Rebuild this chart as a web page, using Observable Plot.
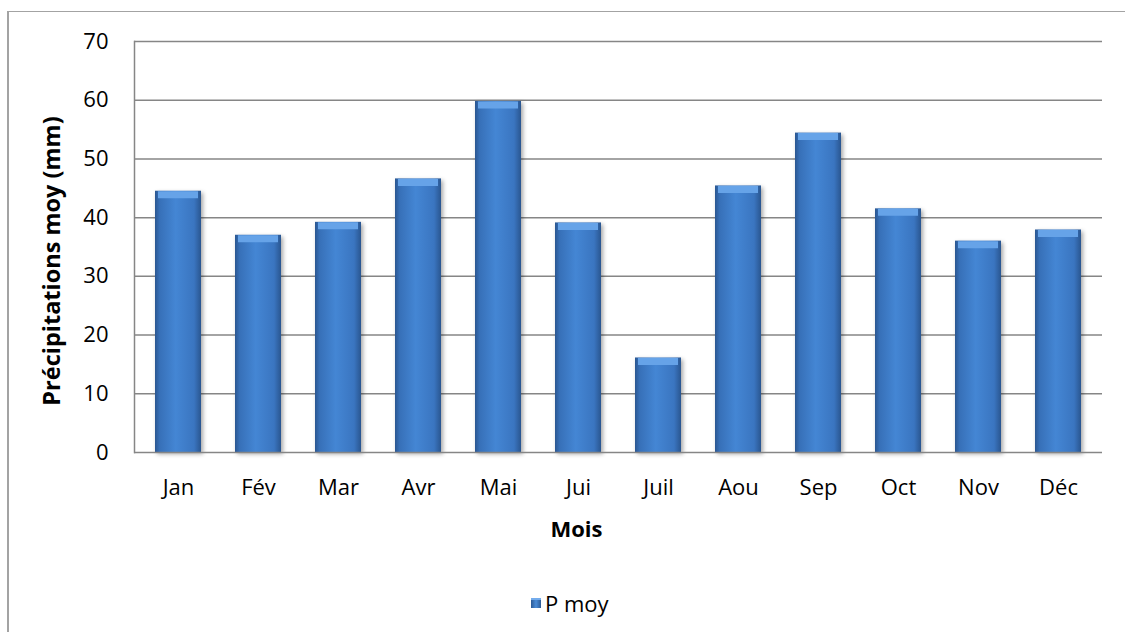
<!DOCTYPE html>
<html>
<head>
<meta charset="utf-8">
<script src="https://cdn.jsdelivr.net/npm/d3@7"></script>
<script src="https://cdn.jsdelivr.net/npm/@observablehq/plot@0.6"></script>
<style>
  html, body { margin: 0; padding: 0; background: #fff; }
  #wrap { position: relative; width: 1125px; height: 632px; overflow: hidden; font-family: "Open Sans", sans-serif; }
  #border { position: absolute; left: 7px; top: 11px; width: 1200px; height: 700px; border-left: 2px solid #a3a3a3; border-top: 1.5px solid #a3a3a3; }
  #chart { position: absolute; left: 0; top: 0; }
  #chart svg { overflow: visible; }
  .bars { filter: drop-shadow(2px 2px 2px rgba(0,0,0,0.35)); }
  #legend { position: absolute; left: 531px; top: 588px; display: flex; align-items: center; font-size: 22px; color: #000; }
  #legend .sw { width: 10px; height: 10px; margin-right: 4px; background: linear-gradient(to right, #2c5a95, #4a8bd6 50%, #2c5a95); box-shadow: inset 0 2px 0 #74acec; }
</style>
</head>
<body>
<div id="wrap">
  <div id="border"></div>
  <div id="chart"></div>
  <div id="legend"><span class="sw"></span><span>P moy</span></div>
</div>
<script>
const months = ["Jan", "Fév", "Mar", "Avr", "Mai", "Jui", "Juil", "Aou", "Sep", "Oct", "Nov", "Déc"];
const pmoy = [44.5, 37.0, 39.2, 46.6, 59.8, 39.1, 16.1, 45.4, 54.4, 41.5, 36.0, 37.9];
const yTicks = [0, 10, 20, 30, 40, 50, 60, 70];
const gridTicks = [10, 20, 30, 40, 50, 60, 70];
const yTitle = "Précipitations moy (mm)";
const xTitle = "Mois";

const data = months.map((m, i) => ({month: m, value: pmoy[i]}));

const plot = Plot.plot({
  width: 1125,
  height: 560,
  marginLeft: 134,
  marginRight: 23,
  marginTop: 41,
  marginBottom: 108,
  style: {fontFamily: "Open Sans, sans-serif", fontSize: "22px", color: "#000", background: "transparent"},
  x: {domain: months, paddingInner: 0.43, paddingOuter: 0.215},
  y: {domain: [0, 70]},
  marks: [
    Plot.gridY(gridTicks, {stroke: "#868686", strokeOpacity: 1, strokeWidth: 1.5}),
    Plot.frame({anchor: "left", stroke: "#868686", strokeWidth: 1.5}),
    Plot.barY(data, {x: "month", y: "value", fill: "url(#barGrad)", className: "bars"}),
    Plot.tickY(data, {x: "month", y: "value", stroke: "#66a3e8", strokeWidth: 7, dy: 3.5, inset: 3}),
    Plot.ruleY([0], {stroke: "#868686", strokeWidth: 1.5}),
    Plot.axisY(yTicks, {tickSize: 0, tickPadding: 26, label: null, fill: "#000"}),
    Plot.axisX({tickSize: 0, tickPadding: 27, label: null, fill: "#000"}),
    Plot.text([yTitle], {frameAnchor: "left", textAnchor: "middle", rotate: -90, dx: -82.5, dy: 14, fontWeight: "bold", fontSize: 23.5, fill: "#000"}),
    Plot.text([xTitle], {frameAnchor: "bottom", lineAnchor: "bottom", dx: -42, dy: 84, fontWeight: "bold", fontSize: 22, fill: "#000"})
  ]
});

const svg = d3.select(plot);
const defs = svg.insert("defs", ":first-child");
const g = defs.append("linearGradient").attr("id", "barGrad").attr("x1", "0").attr("x2", "1").attr("y1", "0").attr("y2", "0");
[["0%", "#2a5690"], ["10%", "#3770b8"], ["45%", "#4486d4"], ["85%", "#3a75c0"], ["100%", "#2a5690"]]
  .forEach(([o, c]) => g.append("stop").attr("offset", o).attr("stop-color", c));

document.getElementById("chart").appendChild(plot);
</script>
</body>
</html>
